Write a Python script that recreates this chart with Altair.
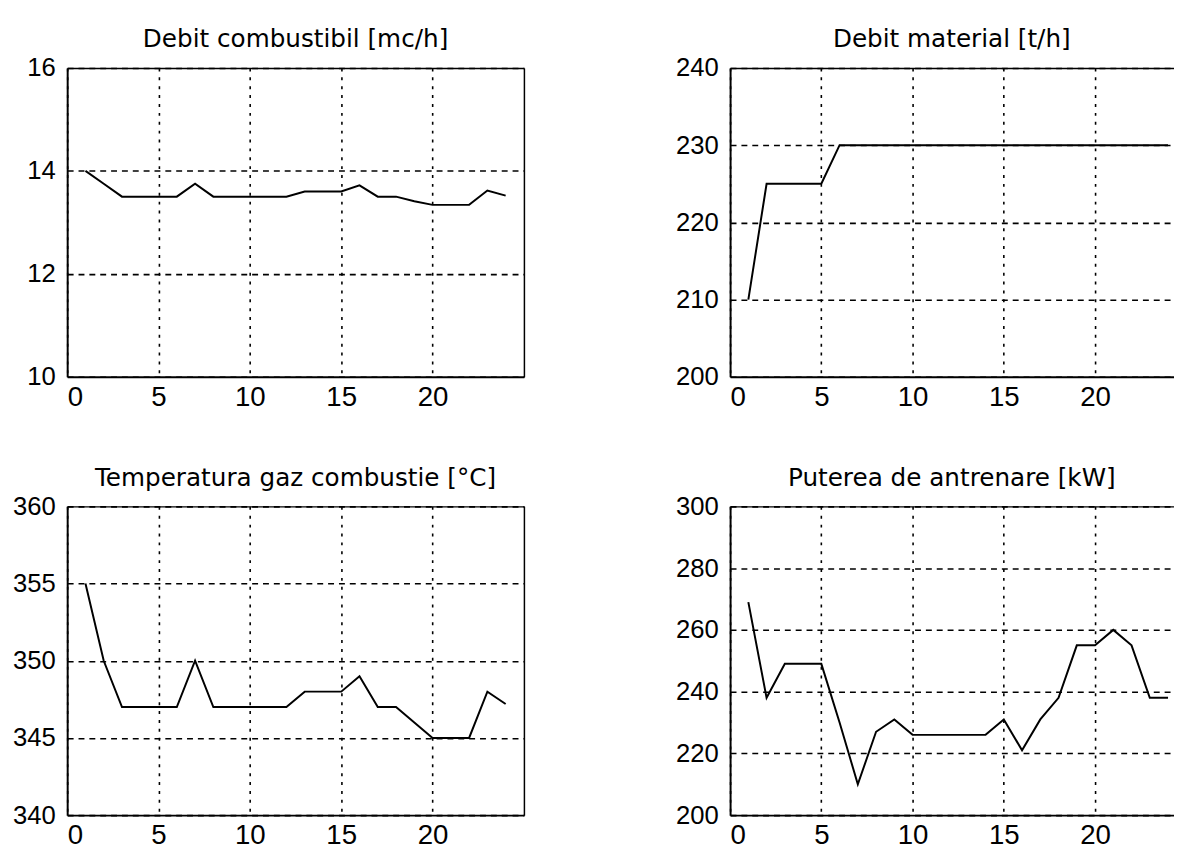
import altair as alt
import pandas as pd

# ---- data (hour of day 1..24) ----
hours = [1, 2, 3, 4, 5, 6, 7, 8, 9, 10, 11, 12, 13, 14, 15, 16, 17, 18, 19, 20, 21, 22, 23, 24]

debit_combustibil = [14.0, 13.75, 13.5, 13.5, 13.5, 13.5, 13.75, 13.5, 13.5, 13.5, 13.5, 13.5,
                     13.6, 13.6, 13.6, 13.72, 13.5, 13.5, 13.41, 13.34, 13.34, 13.34, 13.62, 13.52]

debit_material = [210, 225, 225, 225, 225, 230, 230, 230, 230, 230, 230, 230,
                  230, 230, 230, 230, 230, 230, 230, 230, 230, 230, 230, 230]

temperatura_gaz = [355, 350, 347, 347, 347, 347, 350, 347, 347, 347, 347, 347,
                   348, 348, 348, 349, 347, 347, 346, 345, 345, 345, 348, 347.2]

puterea = [269, 238, 249, 249, 249, 230, 210, 227, 231, 226, 226, 226,
           226, 226, 231, 221, 231, 238, 255, 255, 260, 255, 238, 238]

titles = ["Debit combustibil [mc/h]", "Debit material [t/h]",
          "Temperatura gaz combustie [°C]", "Puterea de antrenare [kW]"]

x_ticks = [0, 5, 10, 15, 20]
y_ticks_1 = [10, 12, 14, 16]
y_ticks_2 = [200, 210, 220, 230, 240]
y_ticks_3 = [340, 345, 350, 355, 360]
y_ticks_4 = [200, 220, 240, 260, 280, 300]

W_LEFT = 463
W_RIGHT = 449.5
H = 313


def panel(values, title, yticks, right_side):
    df = pd.DataFrame({"h": hours, "v": values})
    xmax = 24.3 if right_side else 25
    w = W_RIGHT if right_side else W_LEFT
    xscale = alt.Scale(domain=[0, xmax], nice=False, zero=False)
    yscale = alt.Scale(domain=[yticks[0], yticks[-1]], nice=False, zero=False)

    line = alt.Chart(df).mark_line(color="black", strokeWidth=2).encode(
        x=alt.X("h:Q", scale=xscale,
                axis=alt.Axis(values=x_ticks, title=None, orient="bottom",
                              grid=True, gridDash=[3, 6], gridColor="black",
                              gridWidth=1.6, gridOpacity=1,
                              domain=True, domainColor="black", domainWidth=2,
                              ticks=False, tickSize=0, labelPadding=7,
                              labelFontSize=28)),
        y=alt.Y("v:Q", scale=yscale,
                axis=alt.Axis(values=yticks, title=None, orient="left",
                              grid=True, gridDash=[6, 5], gridColor="black",
                              gridWidth=1.6, gridOpacity=1,
                              domain=True, domainColor="black", domainWidth=2,
                              ticks=False, tickSize=0, labelPadding=12,
                              labelFontSize=26, labelBaseline="middle")),
    )

    frame_y_axis = None if right_side else alt.Axis(
        orient="right", labels=False, ticks=False, grid=False, title=None,
        domain=True, domainColor="black", domainWidth=1.5)

    frame = alt.Chart(df).mark_line(opacity=0).encode(
        x=alt.X("h:Q", scale=xscale,
                axis=alt.Axis(orient="top", labels=False, ticks=False, grid=False,
                              title=None, domain=True, domainColor="black",
                              domainWidth=1.5)),
        y=alt.Y("v:Q", scale=yscale, axis=frame_y_axis),
    )

    return alt.layer(line, frame).resolve_axis(x="independent", y="independent").properties(
        width=w, height=H,
        title=alt.TitleParams(text=title, frame="group", offset=3))


p1 = panel(debit_combustibil, titles[0], y_ticks_1, False)
p2 = panel(debit_material, titles[1], y_ticks_2, True)
p3 = panel(temperatura_gaz, titles[2], y_ticks_3, False)
p4 = panel(puterea, titles[3], y_ticks_4, True)

chart = alt.concat(p1, p2, p3, p4, columns=2,
                   spacing={"row": 55.4, "column": 153}).configure_view(
    stroke=None
).configure_axis(
    labelFont="Liberation Sans", labelColor="black"
).configure_title(
    font="DejaVu Sans", fontSize=25, fontWeight="normal", color="black",
    anchor="middle", baseline="alphabetic"
).properties(
    padding={"left": 4, "top": 14, "right": 0, "bottom": 0},
    background="white"
)

chart.save("out.html", embed_options={"renderer": "svg", "actions": False})
